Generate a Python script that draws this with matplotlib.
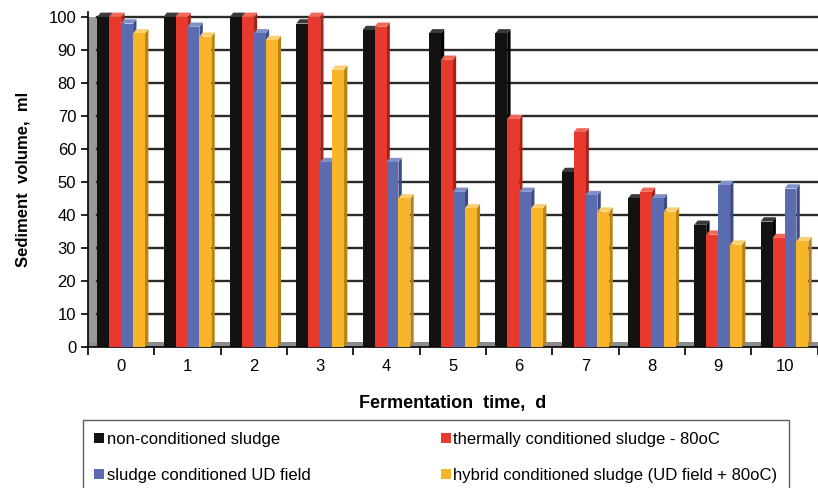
import numpy as np
import matplotlib
matplotlib.use('Agg')
import matplotlib.pyplot as plt
from matplotlib.patches import Polygon, Rectangle

plt.rcParams['font.family'] = ['Liberation Sans', 'DejaVu Sans']

# data
days = [0, 1, 2, 3, 4, 5, 6, 7, 8, 9, 10]
non_cond = [100, 100, 100, 98, 96, 95, 95, 53, 45, 37, 38]
thermal = [100, 100, 100, 100, 97, 87, 69, 65, 47, 34, 33]
ud_field = [98, 97, 95, 56, 56, 47, 47, 46, 45, 49, 48]
hybrid = [95, 94, 93, 84, 45, 42, 42, 41, 41, 31, 32]

series = [non_cond, thermal, ud_field, hybrid]
labels = ['non-conditioned sludge', 'thermally conditioned sludge - 80oC',
          'sludge conditioned UD field', 'hybrid conditioned sludge (UD field + 80oC)']
colors = ['#141210', '#e8392e', '#5b6cb0', '#f8b52a']
sides = ['#000000', '#a82218', '#3c4a85', '#b98310']
tops = ['#3a3a3a', '#f06a5c', '#8290c8', '#fbd070']

fig = plt.figure(figsize=(8.18, 4.88), dpi=100)
ax = fig.add_axes([0.1076, 0.289, 0.892, 0.6865])

x = np.arange(len(days))
w = 0.18
offsets = [-0.27, -0.09, 0.09, 0.27]
dx, dy = 0.05, 1.3

# back wall and floor
ax.add_patch(Rectangle((0, 0), 0.012, 100, transform=ax.get_yaxis_transform(),
                       facecolor='#9a9a9a', edgecolor='none', zorder=0))
ax.add_patch(Rectangle((0, 0), 1, 1.4, transform=ax.get_yaxis_transform(),
                       facecolor='#8c8c8c', edgecolor='none', zorder=0))

for yv in range(10, 101, 10):
    ax.plot([0.012, 1], [yv, yv], transform=ax.get_yaxis_transform(),
            color='#2a2a2a', lw=1.7, zorder=1)

for i, vals in enumerate(series):
    for j, v in enumerate(vals):
        x0 = x[j] + offsets[i] - w / 2
        x1 = x0 + w
        ax.add_patch(Polygon([(x1, 0), (x1 + dx, dy), (x1 + dx, v + dy), (x1, v)],
                             closed=True, facecolor=sides[i], edgecolor='none', zorder=2 + i))
        ax.add_patch(Polygon([(x0, v), (x0 + dx, v + dy), (x1 + dx, v + dy), (x1, v)],
                             closed=True, facecolor=tops[i], edgecolor='none', zorder=2 + i))
    ax.bar(x + offsets[i], vals, width=w, color=colors[i], zorder=2 + i, label=labels[i])

ax.set_xlim(-0.5, 10.5)
ax.set_ylim(0, 101.5)
ax.set_yticks(range(0, 101, 10))
ax.set_xticks(x)
ax.set_xticklabels([str(d) for d in days], fontsize=12)
ax.set_xticks(np.arange(-0.5, 10.6, 1), minor=True)
ax.tick_params(axis='x', which='major', length=0, pad=9)
ax.tick_params(axis='x', which='minor', length=6, width=1.2, direction='out')
ax.tick_params(axis='y', labelsize=12, length=5, width=1.2, direction='out')
for s in ['top', 'right']:
    ax.spines[s].set_visible(False)
ax.spines['left'].set_linewidth(1.2)
ax.spines['bottom'].set_linewidth(1.2)

ax.set_ylabel('Sediment  volume,  ml', fontsize=12, fontweight='bold', labelpad=13)
ax.set_xlabel('Fermentation  time,  d', fontsize=13, fontweight='bold', labelpad=15)

handles, lbls = ax.get_legend_handles_labels()
order = [0, 2, 1, 3]
leg = fig.legend([handles[k] for k in order], [lbls[k] for k in order],
                 loc='upper left', bbox_to_anchor=(0.101, 0.139),
                 ncol=2, fontsize=12, frameon=True, fancybox=False,
                 edgecolor='#333333', handlelength=0.6, handleheight=0.6,
                 handletextpad=0.15, borderpad=0.7, labelspacing=1.25, columnspacing=7.8,
                 borderaxespad=0)
leg.get_frame().set_linewidth(1.0)

fig.savefig('out.png', dpi=100)
